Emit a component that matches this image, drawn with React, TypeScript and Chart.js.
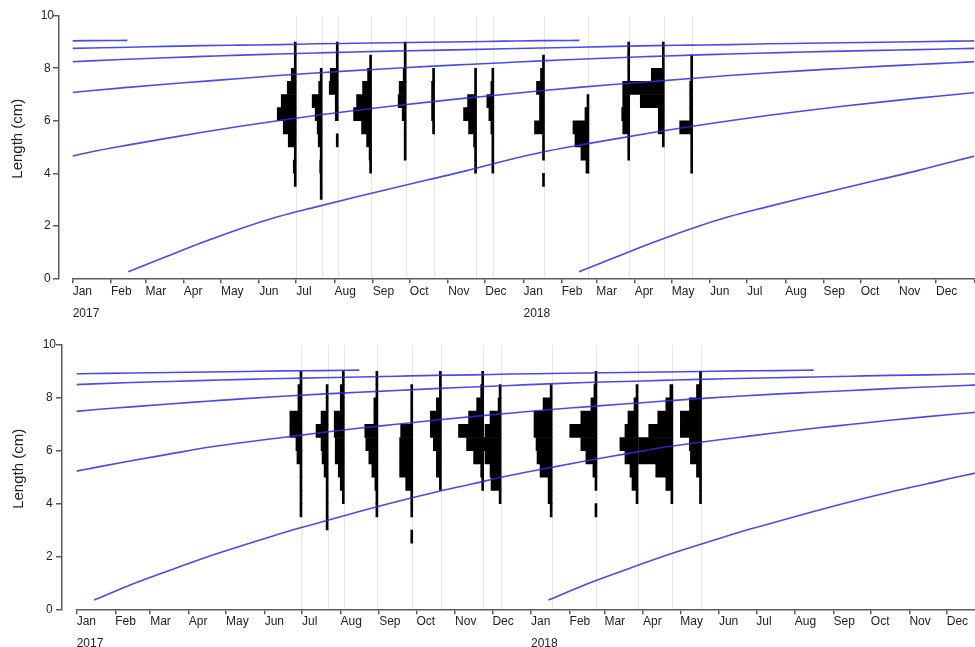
import React, { useEffect, useRef } from "react";
import { Chart, registerables } from "chart.js";

Chart.register(...registerables);

// ---------------- data ----------------
const AXIS_START = "2017-01-01";
const AXIS_END = "2019-01-01";
const MONTH_NAMES = ["Jan", "Feb", "Mar", "Apr", "May", "Jun", "Jul", "Aug", "Sep", "Oct", "Nov", "Dec"];
const AXIS_YEARS = [2017, 2018];
const YEAR_LABELS = ["2017", "2018"];
const Y_MIN = 0;
const Y_MAX = 10;
const Y_STEP = 2;
const Y_TITLE = "Length (cm)";

// sampling dates (shared by both panels)
const SAMPLE_DATES = [
  "2017-07-01", "2017-07-22", "2017-08-04", "2017-08-31", "2017-09-28", "2017-10-21",
  "2017-11-24", "2017-12-08", "2018-01-18", "2018-02-23", "2018-03-28", "2018-04-25", "2018-05-18",
];

// length classes (mid points, 0.5 cm bins)
const BIN_MIDS = [2.75, 3.25, 3.75, 4.25, 4.75, 5.25, 5.75, 6.25, 6.75, 7.25, 7.75, 8.25, 8.75];

// relative frequency per sample (rows) and length class (columns) - top panel
const TOP_FREQ = [
  [0, 0, 2, 3, 2, 8, 13, 19, 15, 9, 5, 2, 2],
  [0, 2, 2, 2.5, 2, 4, 5, 7, 10, 3.5, 2, 0, 0],
  [0, 0, 0, 0, 0, 2, 0, 3, 3, 9, 8, 2, 2],
  [0, 0, 0, 2, 2.5, 5, 10, 18, 15, 9, 4, 2, 0],
  [0, 0, 0, 0, 2, 2, 2, 4, 8, 7, 3, 2, 2],
  [0, 0, 0, 0, 0, 0, 2, 3, 3, 3, 2, 0, 0],
  [0, 0, 0, 2, 2, 3, 8, 13, 9, 2, 2, 0, 0],
  [0, 0, 0, 2, 2, 2, 3, 5, 7, 3, 2, 0, 0],
  [0, 0, 2, 0, 2, 2, 10, 5, 5, 8, 4, 2, 0],
  [0, 0, 0, 3, 8, 14, 16, 4, 2, 0, 0, 0, 0],
  [0, 0, 0, 0, 2, 2, 7, 8, 7, 7, 2, 2, 2],
  [0, 0, 0, 0, 0, 2, 6, 6, 24, 34, 13, 2, 2],
  [0, 0, 0, 2, 2, 2, 13, 3, 3, 3, 2, 2, 0],
];

// bottom panel
const BOTTOM_FREQ = [
  [0, 0, 2, 2, 2, 2, 5, 6, 12, 12, 4, 4, 2],
  [0, 2, 2, 2, 2, 4, 6, 7, 12, 7, 2, 2, 0],
  [0, 0, 0, 2, 4, 6, 9, 9, 10, 10, 4, 4, 2],
  [0, 0, 2, 2, 3, 6, 9, 12, 13, 4, 4, 2, 2],
  [2, 0, 2, 2, 7, 13, 13, 13, 12, 2, 2, 2, 0],
  [0, 0, 0, 0, 2, 5, 5, 8, 11, 11, 5, 2, 2],
  [0, 0, 0, 0, 2, 3, 10, 17, 25, 15, 7, 3, 2],
  [0, 0, 0, 2, 10, 11, 16, 17, 16, 11, 3, 2, 0],
  [0, 0, 2, 4, 4, 12, 15, 16, 18, 18, 9, 2, 0],
  [0, 0, 2, 0, 2, 4, 11, 16, 27, 16, 6, 3, 2],
  [0, 0, 0, 2, 6, 8, 13, 18, 13, 10, 4, 2, 0],
  [0, 0, 0, 2, 7, 17, 34, 34, 24, 15, 7, 3, 0],
  [0, 0, 0, 2, 2, 5, 11, 12, 21, 21, 12, 5, 2],
];

// growth curve: length (cm) at age, one value per month of age - top panel
const TOP_LAA = [
  0.25, 0.82, 1.38, 1.9, 2.35, 2.72, 3.08, 3.42, 3.76, 4.1, 4.47, 4.8, 5.07,
  5.32, 5.56, 5.79, 6.0, 6.2, 6.38, 6.55, 6.71, 6.86, 7.0, 7.14, 7.27,
  7.39, 7.5, 7.61, 7.72, 7.82, 7.91, 7.99, 8.07, 8.14, 8.21, 8.28, 8.34,
  8.4, 8.45, 8.5, 8.54, 8.58, 8.62, 8.65, 8.68, 8.71, 8.74, 8.77, 8.8,
  8.83, 8.86, 8.88, 8.9, 8.93, 8.95, 8.97, 8.99, 9.01, 9.03, 9.05, 9.06,
];
const TOP_COHORT_BIRTHS = [
  "2012-02-15", "2013-02-15", "2014-02-15", "2015-02-15", "2016-02-15", "2017-02-15", "2018-02-15",
];

// bottom panel growth curve
const BOTTOM_LAA = [
  0.35, 0.95, 1.48, 1.99, 2.45, 2.9, 3.3, 3.7, 4.08, 4.43, 4.75, 5.07, 5.35,
  5.62, 5.87, 6.12, 6.32, 6.5, 6.68, 6.85, 7.0, 7.15, 7.29, 7.42, 7.55,
  7.66, 7.77, 7.87, 7.97, 8.06, 8.14, 8.21, 8.28, 8.35, 8.41, 8.47, 8.53,
  8.58, 8.62, 8.66, 8.7, 8.73, 8.76, 8.79, 8.82, 8.85, 8.87, 8.9, 8.92,
  8.94, 8.96, 8.98, 9.0, 9.02, 9.03, 9.05,
];
const BOTTOM_COHORT_BIRTHS = [
  "2013-01-15", "2014-01-15", "2015-01-15", "2016-01-15", "2017-01-15", "2018-01-15",
];

// ---------------- helpers / style ----------------
const DAY_MS = 86400000;
const START_MS = Date.parse(AXIS_START + "T00:00:00Z");
const dayOf = (iso: string) => (Date.parse(iso + "T00:00:00Z") - START_MS) / DAY_MS;
const X_MAX = dayOf(AXIS_END);
const DAYS_PER_MONTH = 365.25 / 12;
const HIST_SCALE = 0.81; // days per frequency unit

const FONT = "'Liberation Sans', Arial, sans-serif";
const TEXT_COLOR = "#222";
const AXIS_COLOR = "#5a5a5a";
const GRID_COLOR = "#e6e6e6";
const CURVE_COLOR = "rgba(45,45,225,0.85)";
const TITLE_SHIFT = "    "; // leading spaces shift the centred title upwards, as in the original layout

const MONTH_TICKS: { value: number; label: string }[] = [];
AXIS_YEARS.forEach((y) =>
  MONTH_NAMES.forEach((m, i) => {
    MONTH_TICKS.push({ value: (Date.UTC(y, i, 1) - START_MS) / DAY_MS, label: m });
  })
);
MONTH_TICKS.push({ value: X_MAX, label: "" });
const YEAR_TICKS = AXIS_YEARS.map((y) => (Date.UTC(y, 0, 1) - START_MS) / DAY_MS);

type PanelCfg = {
  top: number;
  width: number;
  height: number;
  areaLeft: number;
  yLinePx: number;
  padTop: number;
  padRight: number;
  padBottom: number;
  xAxisH: number;
  yearAxisH: number;
  monthPad: number;
  yearPad: number;
  yLabelPad: number;
  titlePad: number;
  freq: number[][];
  laa: number[];
  births: string[];
};

const PANELS: PanelCfg[] = [
  {
    top: 0, width: 990, height: 323, areaLeft: 72.7, yLinePx: 58.3,
    padTop: 15.7, padRight: 15.7, padBottom: 0, xAxisH: 25, yearAxisH: 19.7,
    monthPad: 1.5, yearPad: 2.8, yLabelPad: 18.7, titlePad: 9.3,
    freq: TOP_FREQ, laa: TOP_LAA, births: TOP_COHORT_BIRTHS,
  },
  {
    top: 330, width: 1010, height: 340, areaLeft: 76.7, yLinePx: 61.7,
    padTop: 15, padRight: 24.7, padBottom: 16, xAxisH: 25, yearAxisH: 19.7,
    monthPad: 0.5, yearPad: 1.8, yLabelPad: 20.7, titlePad: 9.7,
    freq: BOTTOM_FREQ, laa: BOTTOM_LAA, births: BOTTOM_COHORT_BIRTHS,
  },
];

function Panel({ cfg }: { cfg: PanelCfg }) {
  const ref = useRef<HTMLCanvasElement>(null);

  useEffect(() => {
    const canvas = ref.current;
    if (!canvas) return;
    const pxPerDay = (cfg.width - cfg.padRight - cfg.areaLeft) / X_MAX;
    const yLineValue = (cfg.yLinePx - cfg.areaLeft) / pxPerDay;
    const sampleDays = SAMPLE_DATES.map(dayOf);

    const datasets: any[] = [];
    cfg.births.forEach((b) => {
      const b0 = dayOf(b);
      datasets.push({
        type: "line",
        data: cfg.laa.map((L, i) => ({ x: b0 + i * DAYS_PER_MONTH, y: L })),
        borderColor: CURVE_COLOR,
        borderWidth: 1.6,
        pointRadius: 0,
        cubicInterpolationMode: "monotone",
        fill: false,
        order: 1,
        xAxisID: "x",
        yAxisID: "y",
      });
    });
    cfg.freq.forEach((f, s) => {
      const d = sampleDays[s];
      const data: any[] = [];
      f.forEach((n, i) => {
        if (n > 0) data.push({ x: [d - n * HIST_SCALE, d], y: BIN_MIDS[i] });
      });
      datasets.push({
        type: "bar",
        indexAxis: "y",
        data,
        backgroundColor: "#000",
        borderWidth: 0,
        barPercentage: 1,
        categoryPercentage: 1,
        grouped: false,
        order: 2,
        xAxisID: "x",
        yAxisID: "y",
      });
    });

    const tickFont = { family: FONT, size: 12 };

    const chart = new Chart(canvas, {
      type: "line",
      data: { datasets },
      options: {
        responsive: false,
        animation: false,
        events: [],
        layout: { padding: { left: 0, top: cfg.padTop, right: cfg.padRight, bottom: cfg.padBottom } },
        plugins: { legend: { display: false }, tooltip: { enabled: false } },
        scales: {
          x: {
            type: "linear",
            min: 0,
            max: X_MAX,
            offset: false,
            position: "bottom",
            weight: 0,
            afterBuildTicks: (s: any) => {
              s.ticks = MONTH_TICKS.map((t) => ({ value: t.value }));
            },
            afterFit: (s: any) => {
              s.height = cfg.xAxisH;
              s.paddingLeft = 0;
              s.paddingRight = 0;
            },
            ticks: {
              autoSkip: false,
              maxRotation: 0,
              minRotation: 0,
              align: "start",
              padding: cfg.monthPad,
              color: TEXT_COLOR,
              font: tickFont,
              callback: (_v: any, i: number) => MONTH_TICKS[i]?.label ?? "",
            },
            grid: { drawOnChartArea: false, offset: false, tickLength: 5, color: AXIS_COLOR, lineWidth: 1.5 },
            border: { display: true, color: AXIS_COLOR, width: 1.5 },
          } as any,
          xYear: {
            type: "linear",
            axis: "x",
            min: 0,
            max: X_MAX,
            offset: false,
            position: "bottom",
            weight: 1,
            afterBuildTicks: (s: any) => {
              s.ticks = YEAR_TICKS.map((v) => ({ value: v }));
            },
            afterFit: (s: any) => {
              s.height = cfg.yearAxisH;
              s.paddingLeft = 0;
              s.paddingRight = 0;
            },
            ticks: {
              autoSkip: false,
              maxRotation: 0,
              minRotation: 0,
              align: "start",
              padding: cfg.yearPad,
              color: TEXT_COLOR,
              font: tickFont,
              callback: (_v: any, i: number) => YEAR_LABELS[i] ?? "",
            },
            grid: { display: false, drawTicks: false, tickLength: 0, offset: false },
            border: { display: false },
          } as any,
          xSample: {
            type: "linear",
            axis: "x",
            min: 0,
            max: X_MAX,
            offset: false,
            position: "top",
            afterBuildTicks: (s: any) => {
              s.ticks = sampleDays.map((v) => ({ value: v }));
            },
            afterFit: (s: any) => {
              s.height = 0;
              s.paddingLeft = 0;
              s.paddingRight = 0;
            },
            ticks: { display: false },
            grid: { color: GRID_COLOR, lineWidth: 1, drawTicks: false, tickLength: 0, offset: false },
            border: { display: false },
          } as any,
          y: {
            type: "linear",
            min: Y_MIN,
            max: Y_MAX,
            offset: false,
            position: "left",
            afterFit: (s: any) => {
              s.width = cfg.areaLeft;
              s.paddingTop = 0;
              s.paddingBottom = 0;
            },
            ticks: {
              stepSize: Y_STEP,
              crossAlign: "center",
              padding: cfg.yLabelPad,
              color: TEXT_COLOR,
              font: tickFont,
            },
            grid: { display: false, drawTicks: false, tickLength: 0, offset: false },
            border: { display: false },
            title: {
              display: true,
              text: TITLE_SHIFT + Y_TITLE,
              color: TEXT_COLOR,
              font: { family: FONT, size: 15 },
              padding: { top: cfg.titlePad, bottom: 0 },
            },
          } as any,
          yLine: {
            type: "linear",
            axis: "y",
            min: Y_MIN,
            max: Y_MAX,
            offset: false,
            position: { x: yLineValue },
            afterFit: (s: any) => {
              s.paddingTop = 0;
              s.paddingBottom = 0;
            },
            ticks: { stepSize: Y_STEP, display: false },
            grid: { drawOnChartArea: false, offset: false, tickLength: 5, color: AXIS_COLOR, lineWidth: 1.5 },
            border: { display: true, color: AXIS_COLOR, width: 1.5 },
          } as any,
        },
      } as any,
    });
    return () => chart.destroy();
  }, [cfg]);

  return (
    <canvas
      ref={ref}
      width={cfg.width}
      height={cfg.height}
      style={{ position: "absolute", left: 0, top: cfg.top, width: cfg.width, height: cfg.height }}
    />
  );
}

export default function App() {
  return (
    <div
      style={{
        position: "fixed",
        left: 0,
        top: 0,
        width: 975,
        height: 647,
        overflow: "hidden",
        background: "#fff",
      }}
    >
      {PANELS.map((p, i) => (
        <Panel key={i} cfg={p} />
      ))}
    </div>
  );
}
